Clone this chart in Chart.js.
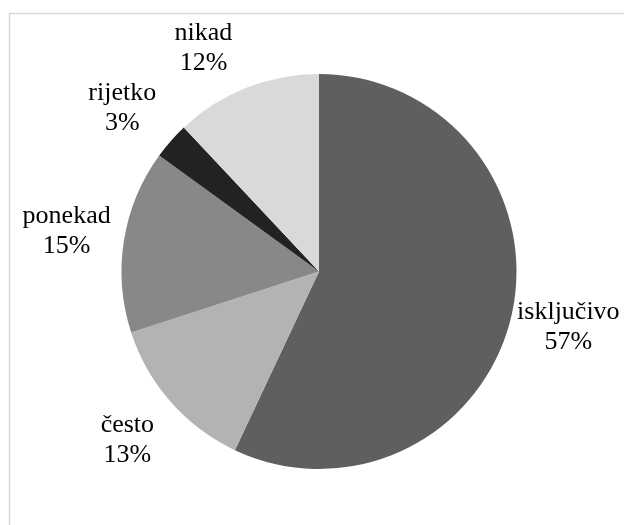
<!DOCTYPE html>
<html>
<head>
<meta charset="utf-8">
<script src="https://cdn.jsdelivr.net/npm/chart.js@4/dist/chart.umd.min.js"></script>
<style>
  html, body { margin: 0; padding: 0; background: #ffffff; }
  #wrap { width: 624px; height: 525px; position: relative; }
</style>
</head>
<body>
<div id="wrap"><canvas id="c" width="624" height="525"></canvas></div>
<script>
// Answers and their shares (per cent)
const categories = ['isključivo', 'često', 'ponekad', 'rijetko', 'nikad'];
const shares = [57, 13, 15, 3, 12];
const sliceColors = ['#5f5f5f', '#b3b3b3', '#888888', '#222222', '#d9d9d9'];

const LABEL_FONT = '26px "Liberation Serif", "Times New Roman", serif';
const LINE_H = 30;

// Light grey frame around the chart area
const framePlugin = {
  id: 'frame',
  beforeDraw(chart) {
    const ctx = chart.ctx;
    ctx.save();
    ctx.strokeStyle = '#d9d9d9';
    ctx.lineWidth = 1.5;
    ctx.beginPath();
    ctx.moveTo(9.5, chart.height + 2);
    ctx.lineTo(9.5, 13.5);
    ctx.lineTo(chart.width + 2, 13.5);
    ctx.stroke();
    ctx.restore();
  }
};

// Category name + percentage outside each slice. A label that would cross
// the top of the frame is first pulled in towards the pie, then slid along
// the circle; neighbours that collide are pushed apart.
const outsideLabels = {
  id: 'outsideLabels',
  afterDatasetsDraw(chart) {
    const ctx = chart.ctx;
    const meta = chart.getDatasetMeta(0);
    const data = chart.data.datasets[0].data;
    const total = data.reduce((a, b) => a + b, 0);
    ctx.save();
    ctx.font = LABEL_FONT;
    const first = meta.data[0];
    const cx = first.x, cy = first.y, r = first.outerRadius;
    const items = meta.data.map((arc, i) => {
      const lines = [chart.data.labels[i], Math.round(data[i] / total * 100) + '%'];
      const w = Math.max(...lines.map(t => ctx.measureText(t).width));
      return { lines, w, h: LINE_H * 2, ang: (arc.startAngle + arc.endAngle) / 2, d: r + 58 };
    });
    const minD = r + 54;
    const topLimit = 18, gapX = 20, gapY = 0;
    const box = it => {
      const x = cx + it.d * Math.cos(it.ang), y = cy + it.d * Math.sin(it.ang);
      return { x, y, l: x - it.w / 2, r: x + it.w / 2, t: y - it.h / 2, b: y + it.h / 2 };
    };
    const step = Math.PI / 1440;
    for (let iter = 0; iter < 1200; iter++) {
      let moved = false;
      items.forEach(it => {
        if (box(it).t < topLimit) {
          if (it.d > minD) {
            it.d -= 0.25;
          } else {
            // angle measured clockwise from twelve o'clock
            const phi = it.ang + Math.PI / 2;
            it.ang += phi > Math.PI ? -step : step;
          }
          moved = true;
        }
      });
      for (let i = 0; i < items.length; i++) {
        const a = items[i], c = items[(i + 1) % items.length];
        const ba = box(a), bc = box(c);
        const overlap = ba.l < bc.r + gapX && bc.l < ba.r + gapX &&
                        ba.t < bc.b + gapY && bc.t < ba.b + gapY;
        if (overlap) {
          if (bc.t >= topLimit + 1) c.ang += step;
          a.ang -= step;
          moved = true;
        }
      }
      if (!moved) break;
    }
    ctx.fillStyle = '#000000';
    ctx.textAlign = 'center';
    ctx.textBaseline = 'middle';
    items.forEach(it => {
      const b = box(it);
      ctx.fillText(it.lines[0], b.x, b.y - LINE_H / 2);
      ctx.fillText(it.lines[1], b.x, b.y + LINE_H / 2);
    });
    ctx.restore();
  }
};

new Chart(document.getElementById('c'), {
  type: 'pie',
  data: {
    labels: categories,
    datasets: [{
      data: shares,
      backgroundColor: sliceColors,
      borderWidth: 0
    }]
  },
  options: {
    responsive: false,
    animation: false,
    rotation: 0,
    layout: { padding: { left: 121.5, right: 107.5, top: 74, bottom: 56 } },
    plugins: {
      legend: { display: false },
      tooltip: { enabled: false }
    }
  },
  plugins: [framePlugin, outsideLabels]
});
</script>
</body>
</html>
